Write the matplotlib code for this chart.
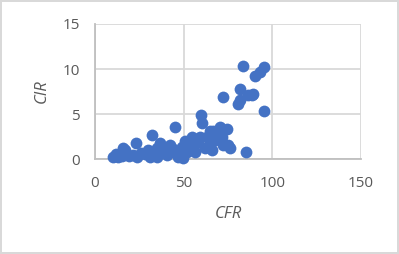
import numpy as np
import matplotlib
matplotlib.use('agg')
import matplotlib.pyplot as plt

# CFR vs CIR
cfr = [10.3, 13, 15, 16, 17, 21.6, 23.1, 23.5, 30, 31, 32, 34.8, 34.8, 36.7,
       40.4, 42.3, 42.3, 45.1, 46, 48.9, 49.8, 49.8, 50.8, 51.7, 54.5, 55.4,
       55.4, 56.4, 59.2, 59.8, 60.2, 63, 64.9, 64.9, 65.8, 66.7, 67.7, 70.5,
       70.5, 71.5, 72, 72.4, 74.3, 75.2, 76.1, 80.5, 81.8, 81.8, 83.7, 85,
       86.5, 88.4, 89.3, 90.2, 93, 95, 95.3,
       12, 19, 26, 28, 38, 44, 47, 52, 58, 62, 68]
cir = [0.2, 0.3, 0.35, 1.2, 1.0, 0.5, 1.85, 0.3, 1.0, 0.3, 2.7, 1.2, 0.3, 1.8,
       0.5, 1.6, 0.85, 3.6, 0.65, 1.4, 0.5, 0.1, 2.0, 1.8, 2.5, 1.4,
       1.2, 0.85, 2.5, 4.9, 4.0, 2.5, 1.8, 3.1, 1.0, 3.1, 2.1, 3.6,
       2.1, 2.5, 6.85, 1.6, 3.3, 1.6, 1.2, 6.1, 7.8, 6.6, 10.3, 0.75,
       7.1, 7.1, 7.25, 9.2, 9.7, 10.2, 5.3,
       0.6, 0.4, 0.7, 0.6, 0.9, 1.1, 0.3, 0.8, 1.9, 1.3, 2.4]

x_ticks = [0, 50, 100, 150]
y_ticks = [0, 5, 10, 15]

fig = plt.figure(figsize=(3.99, 2.54), dpi=100)
fig.patch.set_edgecolor('#d9d9d9')
fig.patch.set_linewidth(1.5)
ax = fig.add_axes([0.238, 0.373, 0.667, 0.533])

ax.scatter(cfr, cir, s=72, color='#4472c4', zorder=3, clip_on=False, linewidths=0)

ax.set_xlim(0, 150)
ax.set_ylim(0, 15)
ax.set_xticks(x_ticks)
ax.set_yticks(y_ticks)
ax.grid(True, color='#d9d9d9', linewidth=1.3)
ax.set_axisbelow(True)
for s in ['top', 'right']:
    ax.spines[s].set_visible(False)
for s in ['left', 'bottom']:
    ax.spines[s].set_color('#bfbfbf')
    ax.spines[s].set_linewidth(1.3)
ax.tick_params(length=0, labelsize=11, labelcolor='#595959')
ax.tick_params(axis='x', pad=12)
ax.tick_params(axis='y', pad=11)
for lab in ax.get_xticklabels() + ax.get_yticklabels():
    lab.set_family('Open Sans')

ax.set_xlabel('CFR', fontsize=12, color='#595959', style='italic', family='Open Sans', labelpad=11)
ax.set_ylabel('CIR', fontsize=12, color='#595959', style='italic', family='Open Sans', labelpad=9)

fig.savefig('out.png', dpi=100, edgecolor=fig.get_edgecolor())
